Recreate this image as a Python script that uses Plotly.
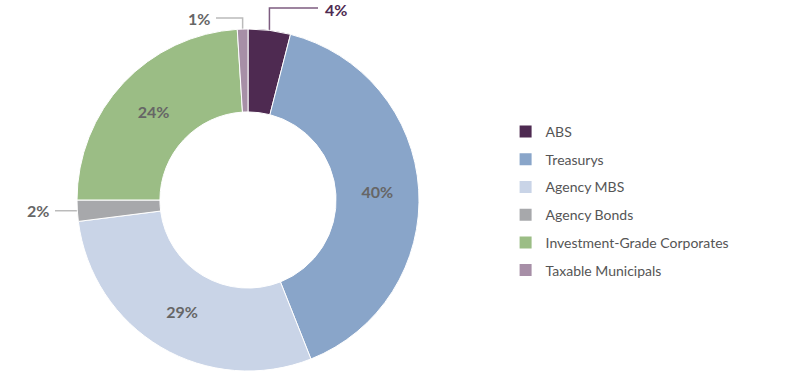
import math
import plotly.graph_objects as go

categories = ["ABS", "Treasurys", "Agency MBS", "Agency Bonds",
              "Investment-Grade Corporates", "Taxable Municipals"]
values = [4, 40, 29, 2, 24, 1]
colors = ["#4e2a51", "#89a5c9", "#c9d4e7", "#a7a8ab", "#9bbd85", "#a78fa7"]
label_text = ["4%", "40%", "29%", "2%", "24%", "1%"]
outside = [True, False, False, True, False, True]

W, H = 800, 375
cx, cy, R = 248, 200, 171  # pie centre / radius in pixels
hole = 0.515

fig = go.Figure()
fig.add_trace(go.Pie(
    labels=categories, values=values, sort=False, direction="clockwise",
    rotation=0, hole=hole,
    marker=dict(colors=colors, line=dict(color="white", width=1)),
    text=[("" if o else t) for t, o in zip(label_text, outside)],
    textinfo="text", textposition="inside", insidetextorientation="horizontal",
    textfont=dict(family="Lato", size=16, color="#666666", weight="bold"),
    showlegend=False, hoverinfo="label+percent",
    domain=dict(x=[(cx - R) / W, (cx + R) / W],
                y=[(H - cy - R) / H, (H - cy + R) / H]),
))

# legend via dummy traces (one group each for spacing)
for c, col in zip(categories, colors):
    fig.add_trace(go.Scatter(x=[None], y=[None], mode="markers", name=c,
                             legendgroup=c,
                             marker=dict(symbol="square", size=12, color=col)))

def px(x):
    return x / W

def py(y):
    return 1 - y / H

# outside labels with leader lines
total = sum(values)
cum = 0
shapes = []
annotations = []
for i, v in enumerate(values):
    mid = (cum + v / 2) / total * 2 * math.pi
    cum += v
    if not outside[i]:
        continue
    x0 = cx + R * math.sin(mid)
    y0 = cy - R * math.cos(mid)
    lab = label_text[i]
    common = dict(xref="paper", yref="paper", yanchor="middle", showarrow=False)
    if lab == "4%":
        y1, x2 = 8, 318
        path = f"M {px(x0)} {py(y0)} L {px(x0)} {py(y1)} L {px(x2)} {py(y1)}"
        lc = "#7d5c80"
        annotations.append(dict(x=px(x2 + 5), y=py(y1 + 1.5), text=lab, xanchor="left",
                                font=dict(family="Lato", size=16, color="#4e2a51", weight="bold"),
                                **common))
    elif lab == "1%":
        y1, x2 = 18, 216
        path = f"M {px(x0)} {py(y0)} L {px(x0)} {py(y1)} L {px(x2)} {py(y1)}"
        lc = "#bbbbbb"
        annotations.append(dict(x=px(x2 - 4), y=py(y1), text=lab, xanchor="right",
                                font=dict(family="Lato", size=16, color="#666666", weight="bold"),
                                **common))
    else:
        x2 = 55
        path = f"M {px(x0)} {py(y0)} L {px(x2)} {py(y0)}"
        lc = "#bbbbbb"
        annotations.append(dict(x=px(x2 - 4), y=py(y0), text=lab, xanchor="right",
                                font=dict(family="Lato", size=16, color="#666666", weight="bold"),
                                **common))
    shapes.append(dict(type="path", path=path, xref="paper", yref="paper",
                       line=dict(color=lc, width=1.5), layer="below"))

fig.update_layout(
    width=W, height=H, margin=dict(l=0, r=0, t=0, b=0),
    paper_bgcolor="white", plot_bgcolor="white",
    xaxis=dict(visible=False), yaxis=dict(visible=False),
    shapes=shapes, annotations=annotations,
    legend=dict(x=0.632, y=py(116), xanchor="left", yanchor="top",
                tracegroupgap=6.5, itemclick=False, itemwidth=30,
                font=dict(family="Lato", size=14, color="#555555")),
)

fig.write_html("out.html", config={"displayModeBar": False},
               post_script="document.body.style.margin='0';document.body.style.overflow='hidden';")
